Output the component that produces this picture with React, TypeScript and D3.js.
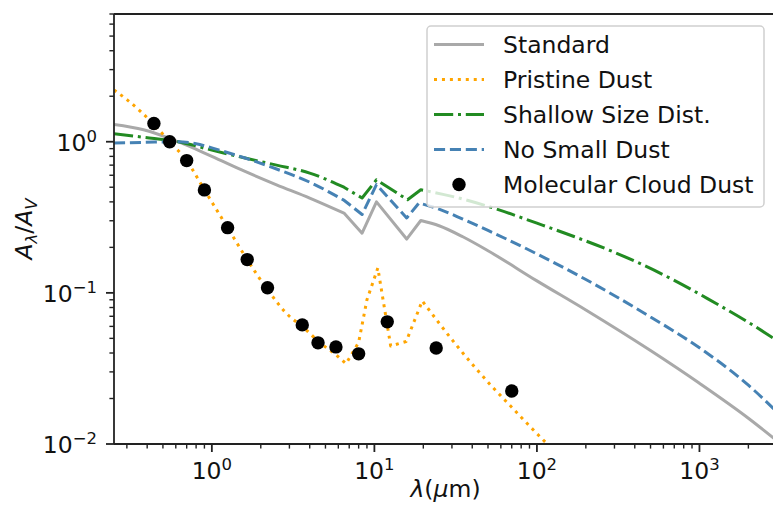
import React from "react";
import * as d3 from "d3";

// ---- data ----
const standardX = [0.25, 0.38, 0.62, 1.0, 1.6, 2.5, 4.0, 6.5, 8.4, 10.3, 15.8, 19.3, 25, 35, 50, 100, 200, 500, 1000, 2000, 3000];
const standardY = [1.3, 1.2, 1.0, 0.8, 0.636, 0.519, 0.424, 0.337, 0.248, 0.4, 0.227, 0.301, 0.278, 0.235, 0.19, 0.12, 0.077, 0.0415, 0.0252, 0.0148, 0.0105];

const pristineX = [0.25, 0.3, 0.44, 0.55, 0.7, 0.9, 1.25, 1.65, 2.2, 3.0, 3.6, 4.5, 5.8, 6.7, 8.0, 9.0, 10.5, 12.6, 15.7, 19.7, 32, 52, 70, 116, 200];
const pristineY = [2.2, 1.9, 1.3, 1.0, 0.75, 0.48, 0.27, 0.166, 0.105, 0.07, 0.06, 0.048, 0.039, 0.034, 0.047, 0.09, 0.146, 0.0445, 0.0477, 0.0885, 0.045, 0.0245, 0.0175, 0.01, 0.006];

const shallowX = [0.25, 0.38, 0.62, 1.0, 1.6, 2.5, 4.0, 6.5, 8.4, 10.3, 16, 19.3, 30, 54, 100, 169, 300, 433, 700, 1114, 2541, 3000];
const shallowY = [1.13, 1.07, 1.0, 0.88, 0.78, 0.7, 0.62, 0.5, 0.424, 0.56, 0.413, 0.481, 0.435, 0.364, 0.289, 0.236, 0.1855, 0.156, 0.121, 0.092, 0.0543, 0.0483];

const noSmallX = [0.25, 0.38, 0.62, 0.8, 1.0, 1.6, 2.5, 4.0, 6.5, 8.4, 10.3, 15.8, 18.8, 25, 35, 50, 100, 200, 500, 1000, 2000, 3000];
const noSmallY = [0.98, 0.99, 1.0, 0.97, 0.91, 0.78, 0.66, 0.54, 0.41, 0.33, 0.52, 0.313, 0.393, 0.358, 0.3075, 0.259, 0.181, 0.1225, 0.0693, 0.0433, 0.0245, 0.0163];

const cloudX = [0.44, 0.55, 0.7, 0.9, 1.25, 1.65, 2.2, 3.6, 4.5, 5.8, 8.0, 12, 24, 70];
const cloudY = [1.32, 1.0, 0.75, 0.48, 0.27, 0.166, 0.108, 0.0614, 0.0467, 0.0439, 0.0395, 0.0643, 0.0432, 0.0224];

const xTickExps = [0, 1, 2, 3];
const yTickExps = [-2, -1, 0];
const legendLabels = ["Standard", "Pristine Dust", "Shallow Size Dist.", "No Small Dust", "Molecular Cloud Dust"];

const W = 773, H = 514;
const L = 114, R = 777, T = 14, B = 444;
const FONT = "DejaVu Sans, sans-serif";
const LW = 3;
const FS = 23.5;
const FS_SUP = 16.5;

// mid-IR feature range drawn with straight segments (indices into each series)
const series = [
  { xs: standardX, ys: standardY, color: "#a9a9a9", dash: "", lin: [7, 11] },
  { xs: pristineX, ys: pristineY, color: "#ffa500", dash: `${LW} ${LW * 1.65}`, lin: [12, 19] },
  { xs: shallowX, ys: shallowY, color: "#228b22", dash: `${LW * 6.4} ${LW * 1.6} ${LW} ${LW * 1.6}`, lin: [7, 11] },
  { xs: noSmallX, ys: noSmallY, color: "#4682b4", dash: `${LW * 3.7} ${LW * 1.6}`, lin: [8, 12] },
];

export default function App() {
  const x = d3.scaleLog().domain([0.25, 3000]).range([L, R]);
  const y = d3.scaleLog().domain([0.01, 7.0]).range([B, T]);

  const smooth = d3
    .line<[number, number]>()
    .x((d) => x(d[0]))
    .y((d) => y(d[1]))
    .curve(d3.curveMonotoneX);
  const straight = d3
    .line<[number, number]>()
    .x((d) => x(d[0]))
    .y((d) => y(d[1]));

  const buildPath = (xs: number[], ys: number[], a: number, b: number) => {
    const pts = xs.map((v, j) => [v, ys[j]] as [number, number]);
    const p1 = smooth(pts.slice(0, a + 1)) || "";
    const p2 = (straight(pts.slice(a, b + 1)) || "").replace(/^M[^LC]*/, "");
    const p3 = (smooth(pts.slice(b)) || "").replace(/^M[^LC]*/, "");
    return p1 + p2 + p3;
  };

  const xMinor: number[] = [];
  for (let e = -1; e <= 3; e++) for (let m = 2; m <= 9; m++) {
    const v = m * Math.pow(10, e);
    if (v >= 0.25 && v <= 3000) xMinor.push(v);
  }
  const yMinor: number[] = [];
  for (let e = -2; e <= 0; e++) for (let m = 2; m <= 9; m++) {
    const v = m * Math.pow(10, e);
    if (v >= 0.01 && v <= 7.0) yMinor.push(v);
  }

  const supText = (e: number) => (e < 0 ? `\u2212${-e}` : `${e}`);

  return (
    <svg width={W} height={H} style={{ position: "absolute", left: 0, top: 0, background: "#fff" }} fontFamily={FONT}>
      <defs>
        <clipPath id="plotclip">
          <rect x={L} y={T} width={R - L} height={B - T} />
        </clipPath>
      </defs>
      <rect x={0} y={0} width={W} height={H} fill="#fff" />
      <g clipPath="url(#plotclip)">
        {series.map((s, i) => (
          <path
            key={i}
            d={buildPath(s.xs, s.ys, s.lin[0], s.lin[1])}
            fill="none"
            stroke={s.color}
            strokeWidth={LW}
            strokeDasharray={s.dash || undefined}
            strokeLinejoin="round"
          />
        ))}
        {cloudX.map((v, i) => (
          <circle key={i} cx={x(v)} cy={y(cloudY[i])} r={6.7} fill="#000" />
        ))}
      </g>
      {/* spines */}
      <line x1={L} x2={L} y1={T} y2={B} stroke="#222" strokeWidth={1.8} />
      <line x1={L} x2={R} y1={B} y2={B} stroke="#222" strokeWidth={1.8} />
      <line x1={L} x2={R} y1={T} y2={T} stroke="#222" strokeWidth={1.8} />
      {/* x ticks */}
      {xMinor.map((v, i) => (
        <line key={"xm" + i} x1={x(v)} x2={x(v)} y1={B} y2={B + 4.6} stroke="#222" strokeWidth={1.4} />
      ))}
      {xTickExps.map((e) => {
        const px = x(Math.pow(10, e));
        return (
          <g key={"xt" + e}>
            <line x1={px} x2={px} y1={B} y2={B + 8} stroke="#222" strokeWidth={1.8} />
            <text x={px} y={479} textAnchor="middle" fontSize={FS} fill="#111">
              <tspan>10</tspan>
              <tspan dy={-9} fontSize={FS_SUP}>{supText(e)}</tspan>
            </text>
          </g>
        );
      })}
      {/* y ticks */}
      {yMinor.map((v, i) => (
        <line key={"ym" + i} x1={L} x2={L - 4.6} y1={y(v)} y2={y(v)} stroke="#222" strokeWidth={1.4} />
      ))}
      {yTickExps.map((e) => {
        const py = y(Math.pow(10, e));
        return (
          <g key={"yt" + e}>
            <line x1={L} x2={L - 8} y1={py} y2={py} stroke="#222" strokeWidth={1.8} />
            <text x={97} y={py + 9} textAnchor="end" fontSize={FS} fill="#111">
              <tspan>10</tspan>
              <tspan dy={-9} fontSize={FS_SUP}>{supText(e)}</tspan>
            </text>
          </g>
        );
      })}
      {/* axis labels */}
      <text x={(L + R) / 2} y={497} textAnchor="middle" fontSize={FS} fill="#111">
        <tspan fontStyle="italic">λ</tspan>
        <tspan>(</tspan>
        <tspan fontStyle="italic">μ</tspan>
        <tspan>m)</tspan>
      </text>
      <text transform={`translate(32, ${(T + B) / 2}) rotate(-90)`} textAnchor="middle" fontSize={FS} fill="#111">
        <tspan fontStyle="italic">A</tspan>
        <tspan fontStyle="italic" fontSize={FS_SUP} dy={5}>λ</tspan>
        <tspan dy={-5}>/</tspan>
        <tspan fontStyle="italic">A</tspan>
        <tspan fontStyle="italic" fontSize={FS_SUP} dy={5}>V</tspan>
      </text>
      {/* legend */}
      <g>
        <rect x={427} y={26} width={337} height={181} rx={4} fill="#fff" fillOpacity={0.8} stroke="#d0d0d0" strokeWidth={1.5} />
        {legendLabels.map((lab, i) => {
          const cy = 44.5 + 35 * i;
          const s = series[i];
          return (
            <g key={lab}>
              {s ? (
                <line x1={434} x2={484} y1={cy} y2={cy} stroke={s.color} strokeWidth={LW} strokeDasharray={s.dash || undefined} />
              ) : (
                <circle cx={459} cy={cy} r={6.7} fill="#000" />
              )}
              <text x={503} y={cy + 8.5} fontSize={FS} fill="#111">{lab}</text>
            </g>
          );
        })}
      </g>
    </svg>
  );
}
